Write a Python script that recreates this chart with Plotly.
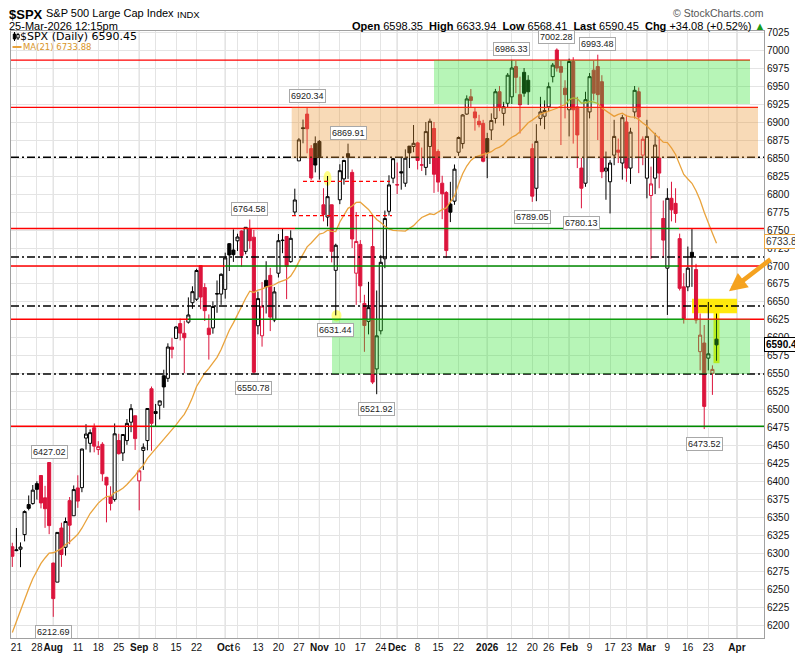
import numpy as np
import pandas as pd
import plotly.graph_objects as go

# ---------------- data ----------------
HOLIDAYS = ["2025-09-01", "2025-11-27", "2025-12-25", "2026-01-01",
            "2026-01-19", "2026-02-16", "2026-04-03"]
_all_days = [d.strftime("%Y-%m-%d") for d in pd.bdate_range("2025-07-18", "2026-04-30")]
trading_days = [d for d in _all_days if d not in HOLIDAYS]
pos = {d: i for i, d in enumerate(trading_days)}

opens = [6310.0, 6304.7, 6306.6, 6326.9, 6368.6, 6370.0, 6397.7, 6409.0, 6378.0, 6427.02,
         6287.3, 6260.9, 6336.0, 6309.3, 6374.1, 6353.1, 6391.7, 6392.1, 6461.0, 6453.7,
         6475.4, 6445.0, 6452.4, 6406.5, 6380.0, 6375.8, 6457.6, 6440.3, 6457.5, 6483.1,
         6492.0, 6401.5, 6443.8, 6457.5, 6529.5, 6498.0, 6506.6, 6547.5, 6544.0, 6587.3,
         6599.5, 6620.0, 6606.5, 6622.0, 6649.0, 6653.9, 6700.5, 6670.0, 6613.6, 6614.0,
         6661.6, 6661.0, 6667.5, 6731.0, 6722.1, 6735.0, 6748.6, 6720.3, 6751.0, 6740.0,
         6617.0, 6603.0, 6680.0, 6687.0, 6625.0, 6690.0, 6736.0, 6741.0, 6706.0, 6775.0,
         6846.0, 6892.0, 6911.0, 6863.0, 6870.0, 6873.0, 6785.0, 6768.0, 6785.0, 6694.0,
         6792.0, 6821.0, 6856.0, 6830.0, 6690.0, 6730.0, 6648.0, 6623.0, 6727.0, 6557.0,
         6610.0, 6710.0, 6776.0, 6822.0, 6813.0, 6830.9, 6815.0, 6866.5, 6866.0, 6871.0,
         6840.0, 6837.0, 6866.0, 6891.0, 6859.0, 6815.0, 6802.0, 6786.0, 6790.0, 6858.0,
         6870.0, 6911.0, 6935.0, 6914.0, 6901.0, 6898.0,
         6877.0, 6889.0, 6905.0, 6942.0, 6912.0, 6926.0, 6935.0, 6977.0, 6938.0, 6969.0,
         6958.0, 6863.0, 6808.0, 6905.0, 6908.0, 6921.0, 6963.0, 7000.0, 6977.0, 6947.0,
         6917.0, 6984.0, 6921.0, 6836.0, 6815.0, 6914.0, 6972.0, 6977.0, 6956.0, 6832.0,
         6817.0, 6854.0, 6861.0, 6843.0, 6900.0, 6836.0, 6914.0, 6942.0, 6854.0, 6822.0,
         6798.0, 6822.0, 6850.0, 6766.0, 6697.0, 6794.0, 6787.0, 6738.0, 6671.0, 6671.0,
         6719.0, 6695.0, 6581.0, 6593.0, 6572.0, 6551.0, 6598.35]
highs = [6315.6, 6336.1, 6316.1, 6360.6, 6381.3, 6395.8, 6401.1, 6409.3, 6394.6, 6427.02,
         6288.1, 6330.0, 6343.4, 6350.6, 6379.1, 6395.2, 6409.3, 6446.2, 6480.3, 6473.0,
         6481.3, 6456.7, 6455.3, 6407.1, 6394.0, 6481.3, 6466.9, 6466.6, 6487.4, 6508.2,
         6492.0, 6416.5, 6453.6, 6502.5, 6532.6, 6508.4, 6513.0, 6555.9, 6592.6, 6600.2,
         6616.7, 6627.0, 6624.0, 6656.4, 6671.8, 6696.2, 6700.5, 6676.0, 6632.7, 6650.9,
         6679.9, 6689.8, 6718.5, 6731.9, 6750.9, 6744.8, 6749.5, 6753.7, 6764.58, 6750.0,
         6664.4, 6677.8, 6706.6, 6697.4, 6670.8, 6744.4, 6752.7, 6741.3, 6749.5, 6807.4,
         6877.7, 6903.4, 6920.34, 6867.9, 6880.0, 6875.0, 6808.0, 6825.0, 6785.3, 6731.0,
         6841.3, 6847.4, 6869.91, 6834.0, 6775.0, 6736.0, 6660.0, 6678.0, 6770.0, 6666.0,
         6715.0, 6777.0, 6826.0, 6850.0, 6843.7, 6851.6, 6862.0, 6866.5, 6895.8, 6872.6,
         6864.5, 6900.0, 6904.7, 6900.0, 6862.0, 6825.3, 6804.0, 6816.9, 6841.0, 6880.0,
         6911.0, 6937.0, 6945.8, 6919.5, 6910.0, 6903.0,
         6885.0, 6912.0, 6946.0, 6950.0, 6928.0, 6968.0, 6986.33, 6985.0, 6963.0, 6975.0,
         6965.0, 6870.0, 6897.0, 6935.0, 6930.0, 6955.0, 6982.0, 7002.28, 6985.0, 6958.0,
         6988.0, 6990.0, 6935.0, 6850.0, 6942.0, 6968.0, 6985.0, 6993.48, 6965.0, 6859.0,
         6847.0, 6903.0, 6877.0, 6910.0, 6910.0, 6892.0, 6950.0, 6948.0, 6880.0, 6903.0,
         6838.0, 6885.0, 6880.0, 6791.0, 6808.0, 6817.0, 6808.0, 6745.0, 6690.0, 6727.0,
         6752.0, 6703.0, 6634.0, 6618.0, 6650.0, 6562.0, 6633.94]
lows = [6282.0, 6303.8, 6281.7, 6317.5, 6360.6, 6368.5, 6375.6, 6363.3, 6336.3, 6327.5,
        6212.69, 6260.9, 6282.1, 6297.8, 6313.6, 6353.1, 6364.1, 6385.8, 6445.0, 6441.1,
        6441.2, 6437.6, 6401.1, 6343.9, 6360.4, 6372.8, 6438.1, 6429.2, 6451.6, 6469.2,
        6444.5, 6360.6, 6416.7, 6444.0, 6443.4, 6476.3, 6487.0, 6503.0, 6539.0, 6571.7,
        6599.1, 6596.6, 6551.3, 6620.0, 6640.5, 6651.5, 6640.0, 6623.6, 6570.0, 6606.0,
        6635.0, 6646.0, 6654.7, 6693.0, 6705.7, 6720.9, 6699.0, 6716.3, 6724.0, 6550.78,
        6605.0, 6588.0, 6634.0, 6609.6, 6622.0, 6684.0, 6717.8, 6654.0, 6704.5, 6771.0,
        6846.0, 6870.4, 6856.5, 6819.6, 6830.0, 6820.0, 6762.0, 6755.0, 6705.0, 6631.44,
        6785.9, 6813.0, 6821.0, 6725.0, 6646.0, 6649.0, 6580.8, 6605.0, 6536.0, 6521.92,
        6605.0, 6697.0, 6770.0, 6815.0, 6799.9, 6806.0, 6810.0, 6836.0, 6858.0, 6834.0,
        6832.0, 6826.0, 6841.6, 6801.5, 6803.0, 6765.0, 6711.0, 6761.0, 6785.0, 6853.0,
        6863.0, 6910.0, 6921.0, 6888.0, 6892.5, 6844.0,
        6822.0, 6875.0, 6898.0, 6915.0, 6895.0, 6920.0, 6925.0, 6940.0, 6884.0, 6935.0,
        6924.0, 6789.05, 6790.0, 6895.0, 6890.0, 6915.0, 6955.0, 6970.0, 6868.0, 6905.0,
        6880.0, 6870.0, 6836.0, 6780.13, 6810.0, 6905.0, 6930.0, 6875.0, 6822.0, 6792.0,
        6773.0, 6840.0, 6843.0, 6820.0, 6817.0, 6814.0, 6905.0, 6829.0, 6840.0, 6794.0,
        6710.0, 6800.0, 6808.0, 6711.0, 6632.0, 6762.0, 6760.0, 6666.0, 6620.0, 6665.0,
        6671.0, 6620.0, 6555.0, 6473.52, 6555.0, 6521.0, 6568.41]
closes = [6296.79, 6305.60, 6309.62, 6358.91, 6363.35, 6388.64, 6389.77, 6370.86, 6362.90, 6339.39,
          6238.01, 6329.94, 6299.19, 6345.06, 6340.00, 6389.45, 6373.45, 6445.76, 6466.58, 6468.54,
          6449.80, 6449.15, 6411.37, 6395.78, 6370.17, 6466.91, 6439.32, 6465.94, 6481.40, 6501.86,
          6460.26, 6415.54, 6448.26, 6502.08, 6481.50, 6495.15, 6512.61, 6532.04, 6587.47, 6584.29,
          6615.28, 6606.76, 6600.35, 6631.96, 6664.36, 6693.75, 6656.92, 6637.97, 6604.72, 6643.70,
          6661.21, 6688.46, 6711.20, 6715.35, 6715.79, 6740.28, 6714.59, 6753.72, 6735.11, 6552.51,
          6654.72, 6644.31, 6671.06, 6629.07, 6664.01, 6735.13, 6735.35, 6699.40, 6738.44, 6791.69,
          6875.16, 6890.89, 6890.59, 6822.34, 6840.20, 6851.97, 6771.55, 6796.29, 6720.32, 6728.80,
          6832.43, 6846.61, 6850.92, 6737.49, 6734.11, 6672.41, 6617.32, 6642.16, 6538.76, 6602.99,
          6705.12, 6765.88, 6812.61, 6849.09, 6812.63, 6829.37, 6849.72, 6857.12, 6870.40, 6846.51,
          6840.51, 6886.68, 6901.00, 6827.41, 6816.51, 6800.26, 6721.43, 6774.76, 6834.50, 6878.49,
          6909.79, 6932.05, 6929.94, 6905.74, 6896.24, 6845.50,
          6858.0, 6902.0, 6942.0, 6920.0, 6921.0, 6965.0, 6975.0, 6962.0, 6924.0, 6940.0,
          6942.0, 6797.0, 6873.0, 6914.0, 6916.0, 6949.0, 6979.0, 6975.0, 6969.0, 6938.0,
          6984.0, 6917.0, 6882.0, 6808.0, 6931.0, 6963.0, 6940.0, 6938.0, 6831.0, 6836.0,
          6843.0, 6880.0, 6858.0, 6906.0, 6836.0, 6886.0, 6944.0, 6907.0, 6876.0, 6880.0,
          6814.0, 6868.0, 6829.0, 6736.0, 6794.0, 6778.0, 6773.0, 6669.0, 6627.0, 6697.0,
          6712.0, 6625.0, 6604.0, 6505.0, 6578.0, 6556.37, 6590.45]
# 20 closes preceding the first candle, needed for the 21-day moving average
prior_closes = [5980.87, 5967.84, 6025.17, 6092.18, 6092.16, 6141.02, 6173.07, 6204.95, 6198.01, 6227.42,
                6279.35, 6229.98, 6225.52, 6263.26, 6280.46, 6259.75, 6268.56, 6243.76, 6263.70, 6297.36]

ma21_label = 6733.88
chg, chg_pct = 34.08, 0.52

tick_dates = ["2025-07-21", "2025-07-28", "2025-08-01", "2025-08-11", "2025-08-18", "2025-08-25",
              "2025-09-02", "2025-09-08", "2025-09-15", "2025-09-22", "2025-10-01", "2025-10-06",
              "2025-10-13", "2025-10-20", "2025-10-27", "2025-11-03", "2025-11-10", "2025-11-17",
              "2025-11-24", "2025-12-01", "2025-12-08", "2025-12-15", "2025-12-22", "2026-01-02",
              "2026-01-12", "2026-01-20", "2026-01-26", "2026-02-02", "2026-02-09", "2026-02-17",
              "2026-02-23", "2026-03-02", "2026-03-09", "2026-03-16", "2026-03-23", "2026-04-01"]
tick_labels = ["21", "28", "Aug", "11", "18", "25", "Sep", "8", "15", "22", "Oct", "6",
               "13", "20", "27", "Nov", "10", "17", "24", "Dec", "8", "15", "22", "2026",
               "12", "20", "26", "Feb", "9", "17", "23", "Mar", "9", "16", "23", "Apr"]
month_labels = {"Aug", "Sep", "Oct", "Nov", "Dec", "2026", "Feb", "Mar", "Apr"}

# annotated extremes: (date, which)
callouts = [("2025-07-31", "high"), ("2025-08-01", "low"), ("2025-10-09", "high"),
            ("2025-10-10", "low"), ("2025-10-29", "high"), ("2025-11-12", "high"),
            ("2025-11-07", "low"), ("2025-11-21", "low"), ("2026-01-12", "high"),
            ("2026-01-20", "low"), ("2026-01-28", "high"), ("2026-02-11", "high"),
            ("2026-02-05", "low"), ("2026-03-20", "low")]

# drawn levels
red_green_levels = [6986.0, 6920.34, 6752.0, 6700.0, 6626.0, 6477.5]
dashdot_levels = [6851.0, 6712.5, 6644.5, 6550.0]
dashed_levels = [6817.6, 6769.9]

# ---------------- derived ----------------
N = len(closes)
xs = list(range(N))
ma21 = pd.Series(prior_closes + closes).rolling(21).mean().tolist()[len(prior_closes):]
prev_close = [prior_closes[-1]] + closes[:-1]

RED = "#DC143C"
LRED = "#FF0000"
GREEN = "#008A00"
ORANGE = "#E9A33C"
FONT = "Liberation Sans, Arial, sans-serif"

# page geometry (the page body has an 8px margin)
OFF = 8
W, H = 803, 656
X0, X1 = -0.32, 183.6
Y0, Y1 = 6183.3, 7026.4
L, R, T, B = 11, 764, 31, 638   # plot area in window pixels


def pxx(p):
    return (p - L) / (R - L)


def pxy(p):
    return (B - p) / (B - T)


def ix(p):  # window pixel x -> index units
    return X0 + (p - L) / (R - L) * (X1 - X0)


fig = go.Figure()

groups = {}
for i in range(N):
    col = "black" if closes[i] >= prev_close[i] else "red"
    hollow = closes[i] > opens[i]
    groups.setdefault((col, hollow), []).append(i)

for (col, hollow), idx in groups.items():
    c = "#000000" if col == "black" else RED
    fill = "#FFFFFF" if hollow else c
    style = dict(line=dict(color=c, width=1), fillcolor=fill)
    fig.add_trace(go.Candlestick(
        x=[xs[i] for i in idx], open=[opens[i] for i in idx], high=[highs[i] for i in idx],
        low=[lows[i] for i in idx], close=[closes[i] for i in idx],
        increasing=style, decreasing=style, whiskerwidth=0, showlegend=False,
        hoverinfo="skip"))

fig.add_trace(go.Scatter(x=xs, y=ma21, mode="lines", line=dict(color=ORANGE, width=1.3),
                         showlegend=False, hoverinfo="skip"))

shapes = []
# month grid lines (darker)
for d, lab in zip(tick_dates, tick_labels):
    if lab in month_labels:
        shapes.append(dict(type="line", xref="x", yref="paper", x0=pos[d], x1=pos[d], y0=0, y1=1,
                           line=dict(color="#C6C6C6", width=1), layer="between"))

# yellow highlights (under candles)
shapes += [
    dict(type="rect", xref="x", yref="y", x0=ix(692), x1=ix(737), y0=6634.5, y1=6654.5,
         fillcolor="rgba(255,232,0,0.95)", line=dict(width=0), layer="between"),
    dict(type="rect", xref="x", yref="y", x0=ix(713.5), x1=ix(719.5), y0=6565, y1=6637,
         fillcolor="rgba(255,240,0,0.9)", line=dict(width=0), layer="between"),
    dict(type="circle", xref="x", yref="y", x0=ix(323.5), x1=ix(331.5), y0=6811, y1=6832,
         fillcolor="rgba(255,255,90,0.75)", line=dict(width=0), layer="between"),
    dict(type="circle", xref="x", yref="y", x0=ix(331.5), x1=ix(341.5), y0=6623, y1=6639,
         fillcolor="rgba(255,255,90,0.75)", line=dict(width=0), layer="between"),
]


def seg(y, a, b, color, dash="solid", width=1.4):
    return dict(type="line", xref="x", yref="y", x0=a, x1=b, y0=y, y1=y,
                line=dict(color=color, width=width, dash=dash), layer="above")


segments = {
    6986.0: [(X0, ix(750), LRED)],
    6920.34: [(X0, ix(758), LRED)],
    6752.0: [(X0, ix(295), LRED), (ix(295), ix(679), GREEN), (ix(679), X1, LRED)],
    6700.0: [(X0, ix(225), LRED), (ix(225), ix(679), GREEN), (ix(679), X1, LRED)],
    6626.0: [(X0, ix(188), LRED), (ix(188), ix(684), GREEN), (ix(684), X1, LRED)],
    6477.5: [(X0, ix(150), LRED), (ix(150), X1, GREEN)],
}
for lvl in red_green_levels:
    for a, b, c in segments[lvl]:
        shapes.append(seg(lvl, a, b, c))
for lvl in dashdot_levels:
    shapes.append(seg(lvl, X0, X1, "#000000", dash="8px,3px,2px,3px"))
shapes.append(seg(dashed_levels[0], ix(303), ix(390), LRED, dash="4px,3px"))
shapes.append(seg(dashed_levels[1], ix(292), ix(392), LRED, dash="4px,3px"))

# translucent zones (above candles)
shapes += [
    dict(type="rect", xref="x", yref="y", x0=ix(291.7), x1=ix(758), y0=6850, y1=6920.34,
         fillcolor="rgba(235,150,50,0.35)", line=dict(width=0), layer="above"),
    dict(type="rect", xref="x", yref="y", x0=ix(434), x1=ix(750), y0=6925, y1=6986,
         fillcolor="rgba(50,225,50,0.35)", line=dict(width=0), layer="above"),
    dict(type="rect", xref="x", yref="y", x0=ix(332), x1=ix(750), y0=6550, y1=6626,
         fillcolor="rgba(50,225,50,0.35)", line=dict(width=0), layer="above"),
]

# legend glyphs
shapes += [
    dict(type="line", xref="paper", yref="paper", x0=pxx(14.5), x1=pxx(14.5), y0=pxy(32), y1=pxy(41),
         line=dict(color="black", width=1)),
    dict(type="rect", xref="paper", yref="paper", x0=pxx(13.3), x1=pxx(15.7), y0=pxy(34), y1=pxy(39),
         fillcolor="black", line=dict(color="black", width=1)),
    dict(type="line", xref="paper", yref="paper", x0=pxx(18), x1=pxx(18), y0=pxy(33), y1=pxy(40),
         line=dict(color="black", width=1)),
    dict(type="rect", xref="paper", yref="paper", x0=pxx(16.8), x1=pxx(19.2), y0=pxy(34.5), y1=pxy(38),
         fillcolor="white", line=dict(color="black", width=1)),
    dict(type="line", xref="paper", yref="paper", x0=pxx(12.5), x1=pxx(21.5), y0=pxy(47), y1=pxy(47),
         line=dict(color=ORANGE, width=2)),
]

annotations = []
for d, which in callouts:
    i = pos[d]
    v = highs[i] if which == "high" else lows[i]
    annotations.append(dict(
        x=i, y=v, xref="x", yref="y", text=f"{v:.2f}", showarrow=False,
        yanchor="bottom" if which == "high" else "top", yshift=4 if which == "high" else -8,
        font=dict(family=FONT, size=9, color="#222"), bgcolor="white",
        bordercolor="#A8A8A8", borderwidth=1, borderpad=1))

# arrow
annotations.append(dict(x=ix(729), y=6665, xref="x", yref="y", ax=43, ay=-33, text="",
                        showarrow=True, arrowhead=2, arrowsize=0.8, arrowwidth=4.5,
                        arrowcolor="#F5A21F", standoff=0))

# right tags
annotations.append(dict(x=pxx(764), y=ma21_label, xref="paper", yref="y", xanchor="left",
                        text=f"{ma21_label:.2f}", showarrow=False,
                        font=dict(family=FONT, size=10, color="#333"), bgcolor="white",
                        bordercolor=ORANGE, borderwidth=1, borderpad=1))
annotations.append(dict(x=pxx(764), y=closes[-1], xref="paper", yref="y", xanchor="left",
                        text=f"<b>{closes[-1]:.2f}</b>", showarrow=False,
                        font=dict(family=FONT, size=10, color="#000"), bgcolor="white",
                        bordercolor="#000", borderwidth=1, borderpad=1))

# legend text
annotations.append(dict(x=pxx(18), y=pxy(36.5), xref="paper", yref="paper", xanchor="left",
                        yanchor="middle", showarrow=False,
                        text=f"$SPX (Daily) {closes[-1]:.2f}",
                        font=dict(family="DejaVu Sans", size=11, color="#000")))
annotations.append(dict(x=pxx(21), y=pxy(47.5), xref="paper", yref="paper", xanchor="left",
                        yanchor="middle", showarrow=False,
                        text=f"MA(21) {ma21_label:.2f}",
                        font=dict(family="DejaVu Sans", size=8.5, color="#D9962A")))

# header
annotations += [
    dict(x=pxx(8), y=pxy(14), xref="paper", yref="paper", xanchor="left", yanchor="middle",
         showarrow=False, text="<b>$SPX</b>", font=dict(family=FONT, size=13, color="#000"),
         borderpad=0),
    dict(x=pxx(45), y=pxy(13.5), xref="paper", yref="paper", xanchor="left", yanchor="middle",
         showarrow=False, text="S&P 500 Large Cap Index", font=dict(family=FONT, size=11, color="#000"),
         borderpad=0),
    dict(x=pxx(176), y=pxy(14), xref="paper", yref="paper", xanchor="left", yanchor="middle",
         showarrow=False, text="INDX", font=dict(family=FONT, size=9.5, color="#000"), borderpad=0),
    dict(x=pxx(8), y=pxy(25.5), xref="paper", yref="paper", xanchor="left", yanchor="middle",
         showarrow=False, text="25-Mar-2026 12:15pm", font=dict(family=FONT, size=11, color="#000"),
         borderpad=0),
    dict(x=pxx(766), y=pxy(25.5), xref="paper", yref="paper", xanchor="right", yanchor="middle",
         showarrow=False, borderpad=0,
         text=(f"<b>Open</b> {opens[-1]:.2f}  <b>High</b> {highs[-1]:.2f}  <b>Low</b> {lows[-1]:.2f}  "
               f"<b>Last</b> {closes[-1]:.2f}  <b>Chg</b> +{chg:.2f} (+{chg_pct:.2f}%) "
               f"<span style='color:#1A9A1A'>▲</span>"),
         font=dict(family=FONT, size=11, color="#000")),
    dict(x=pxx(765), y=pxy(13), xref="paper", yref="paper", xanchor="right", yanchor="middle",
         showarrow=False, text="© StockCharts.com", font=dict(family=FONT, size=10.5, color="#555"),
         borderpad=0),
]

tick_vals = [pos[d] for d in tick_dates]
tick_text = [f"<b>{t}</b>" if t in month_labels else t for t in tick_labels]

fig.update_layout(
    width=W - OFF, height=H - OFF,
    margin=dict(l=L - OFF, r=W - R, t=T - OFF, b=H - B, pad=0),
    paper_bgcolor="white", plot_bgcolor="white", template="none", showlegend=False,
    boxgap=0.25, boxgroupgap=0.0, hovermode=False,
    shapes=shapes, annotations=annotations,
    xaxis=dict(range=[X0, X1], tickmode="array", tickvals=tick_vals, ticktext=tick_text,
               tickangle=0,
               showgrid=True, gridcolor="#E4E4E4", gridwidth=1, zeroline=False,
               showline=True, linecolor="#A0A0A0", linewidth=1, mirror=True, ticks="",
               tickfont=dict(family=FONT, size=10, color="#111"), automargin=False,
               rangeslider=dict(visible=False)),
    yaxis=dict(range=[Y0, Y1], side="right", tickmode="linear", tick0=6200, dtick=25,
               showgrid=True, gridcolor="#E4E4E4", gridwidth=1, zeroline=False,
               showline=True, linecolor="#A0A0A0", linewidth=1, mirror=True, ticks="",
               tickfont=dict(family=FONT, size=10, color="#111"), automargin=False,
               tickformat="d"),
)

fig.write_html("out.html")
